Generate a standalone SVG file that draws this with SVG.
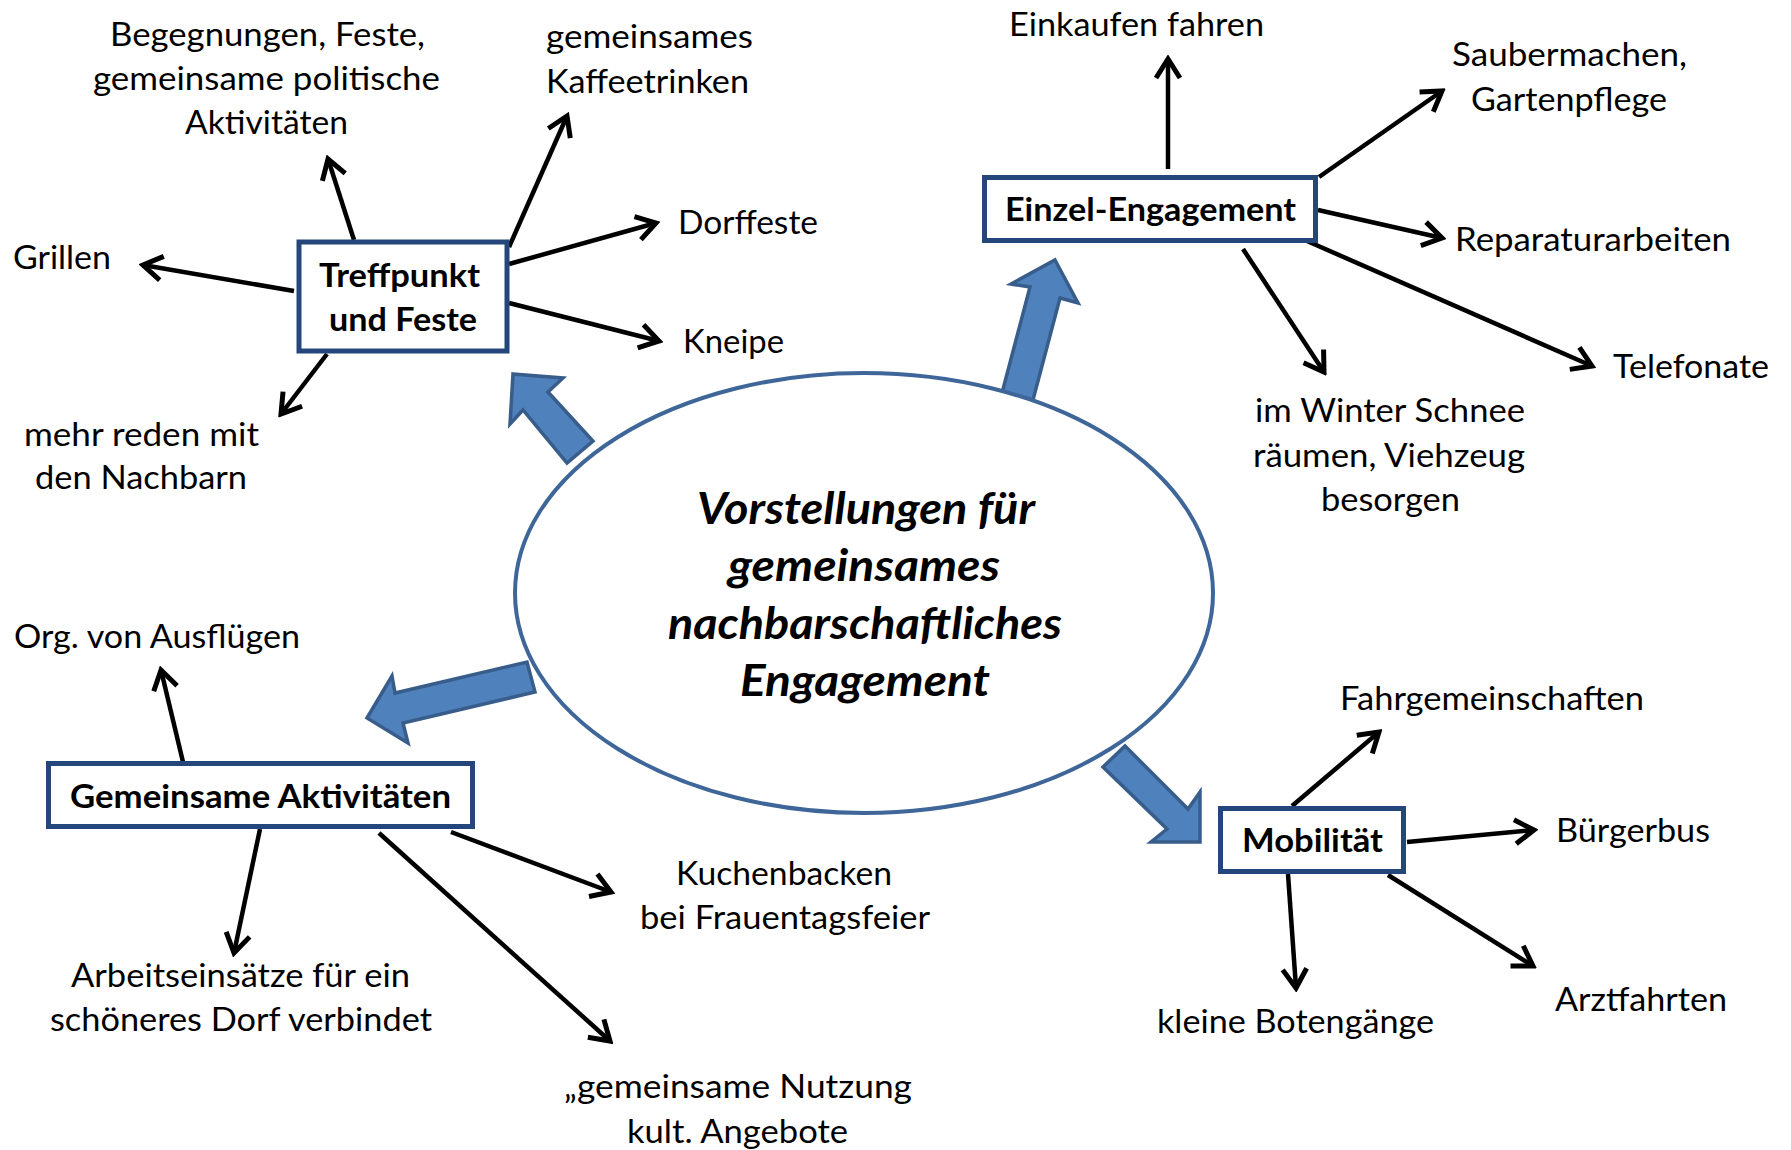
<svg xmlns="http://www.w3.org/2000/svg" width="1791" height="1150" viewBox="0 0 1791 1150">
  <style>
    .lbl { font-family: Lato, "Open Sans", "Liberation Sans", sans-serif; font-size: 33px; fill: #000; }
    .head { font-family: Lato, "Open Sans", "Liberation Sans", sans-serif; font-size: 33px; font-weight: bold; fill: #000; }
    .core { font-family: Lato, "Open Sans", "Liberation Sans", sans-serif; font-size: 43px; font-weight: bold; font-style: italic; fill: #000; }
    .box { fill: #fff; stroke: #24467a; stroke-width: 5; }
    .big { fill: #4f81bd; stroke: #385d8a; stroke-width: 3.5; stroke-linejoin: miter; }
    .con { stroke: #000; stroke-width: 4.5; fill: none; marker-end: url(#vee); }
  </style>
  <defs>
    <marker id="vee" markerUnits="userSpaceOnUse" viewBox="-28 -18 32 36" markerWidth="32" markerHeight="36" refX="0" refY="0" orient="auto">
      <path d="M-19,-12 L0,0 L-19,12" fill="none" stroke="#000" stroke-width="5" stroke-linejoin="miter"/>
    </marker>
  </defs>
  <rect width="1791" height="1150" fill="#fff"/>

  <!-- wide blue arrows leading out of the central ellipse -->
  <g id="block-arrows">
    <polygon class="big" points="513,374 563,378 548,392 593,441 567,463 523,410 510,424"/>
    <polygon class="big" points="1055,260 1078,303 1060,298 1033,400 1002,393 1030,287 1011,284"/>
    <polygon class="big" points="367,718 392,676 395,693 527,662 535,692 403,723 408,743"/>
    <polygon class="big" points="1200,842 1151,842 1167,829 1103,767 1125,746 1188,809 1200,792"/>
  </g>

  <g id="center">
    <ellipse cx="864" cy="593" rx="349" ry="220" fill="#fff" stroke="#3f6699" stroke-width="4"/>
    <text class="core" x="697" y="524" textLength="338" lengthAdjust="spacingAndGlyphs">Vorstellungen für</text>
    <text class="core" x="728" y="581" textLength="272" lengthAdjust="spacingAndGlyphs">gemeinsames</text>
    <text class="core" x="668" y="639" textLength="394" lengthAdjust="spacingAndGlyphs">nachbarschaftliches</text>
    <text class="core" x="740" y="696" textLength="250" lengthAdjust="spacingAndGlyphs">Engagement</text>
  </g>

  <!-- thin arrows from each topic box to its items -->
  <g id="connectors">
    <line class="con" x1="354" y1="240" x2="328" y2="159"/>
    <line class="con" x1="509" y1="247" x2="567" y2="116"/>
    <line class="con" x1="509" y1="264" x2="656" y2="223"/>
    <line class="con" x1="509" y1="303" x2="659" y2="341"/>
    <line class="con" x1="294" y1="291" x2="143" y2="265"/>
    <line class="con" x1="327" y1="354" x2="281" y2="414"/>

    <line class="con" x1="1168" y1="169" x2="1168" y2="59"/>
    <line class="con" x1="1319" y1="177" x2="1442" y2="91"/>
    <line class="con" x1="1318" y1="210" x2="1442" y2="238"/>
    <line class="con" x1="1307" y1="241" x2="1592" y2="366"/>
    <line class="con" x1="1243" y1="249" x2="1324" y2="372"/>

    <line class="con" x1="183" y1="762" x2="161" y2="670"/>
    <line class="con" x1="260" y1="829" x2="234" y2="953"/>
    <line class="con" x1="451" y1="832" x2="611" y2="892"/>
    <line class="con" x1="379" y1="833" x2="610" y2="1041"/>

    <line class="con" x1="1292" y1="806" x2="1379" y2="732"/>
    <line class="con" x1="1407" y1="842" x2="1534" y2="830"/>
    <line class="con" x1="1388" y1="875" x2="1533" y2="966"/>
    <line class="con" x1="1288" y1="874" x2="1296" y2="988"/>
  </g>

  <g id="treffpunkt">
    <rect class="box" x="299" y="242" width="208" height="109"/>
    <text class="head" x="319" y="287" textLength="161" lengthAdjust="spacingAndGlyphs">Treffpunkt</text>
    <text class="head" x="329" y="331" textLength="148" lengthAdjust="spacingAndGlyphs">und Feste</text>
  </g>
  <g id="einzel">
    <rect class="box" x="984.5" y="177.5" width="331" height="63"/>
    <text class="head" x="1005" y="221" textLength="291" lengthAdjust="spacingAndGlyphs">Einzel-Engagement</text>
  </g>
  <g id="gemeinsam">
    <rect class="box" x="48.5" y="763.5" width="424" height="63"/>
    <text class="head" x="70" y="808" textLength="381" lengthAdjust="spacingAndGlyphs">Gemeinsame Aktivitäten</text>
  </g>
  <g id="mobilitaet">
    <rect class="box" x="1220.5" y="808.5" width="183" height="63"/>
    <text class="head" x="1242" y="852" textLength="141" lengthAdjust="spacingAndGlyphs">Mobilität</text>
  </g>

  <g id="items">
    <text class="lbl" x="110" y="46" textLength="315" lengthAdjust="spacingAndGlyphs">Begegnungen, Feste,</text>
    <text class="lbl" x="93" y="90" textLength="347" lengthAdjust="spacingAndGlyphs">gemeinsame politische</text>
    <text class="lbl" x="185" y="134" textLength="163" lengthAdjust="spacingAndGlyphs">Aktivitäten</text>
    <text class="lbl" x="546" y="48" textLength="207" lengthAdjust="spacingAndGlyphs">gemeinsames</text>
    <text class="lbl" x="546" y="93" textLength="203" lengthAdjust="spacingAndGlyphs">Kaffeetrinken</text>
    <text class="lbl" x="678" y="234" textLength="140" lengthAdjust="spacingAndGlyphs">Dorffeste</text>
    <text class="lbl" x="13" y="269" textLength="98" lengthAdjust="spacingAndGlyphs">Grillen</text>
    <text class="lbl" x="683" y="353" textLength="101" lengthAdjust="spacingAndGlyphs">Kneipe</text>
    <text class="lbl" x="24" y="446" textLength="235" lengthAdjust="spacingAndGlyphs">mehr reden mit</text>
    <text class="lbl" x="35" y="489" textLength="212" lengthAdjust="spacingAndGlyphs">den Nachbarn</text>

    <text class="lbl" x="1009" y="36" textLength="255" lengthAdjust="spacingAndGlyphs">Einkaufen fahren</text>
    <text class="lbl" x="1452" y="66" textLength="235" lengthAdjust="spacingAndGlyphs">Saubermachen,</text>
    <text class="lbl" x="1471" y="111" textLength="196" lengthAdjust="spacingAndGlyphs">Gartenpflege</text>
    <text class="lbl" x="1455" y="251" textLength="276" lengthAdjust="spacingAndGlyphs">Reparaturarbeiten</text>
    <text class="lbl" x="1613" y="378" textLength="156" lengthAdjust="spacingAndGlyphs">Telefonate</text>
    <text class="lbl" x="1255" y="422" textLength="270" lengthAdjust="spacingAndGlyphs">im Winter Schnee</text>
    <text class="lbl" x="1253" y="467" textLength="272" lengthAdjust="spacingAndGlyphs">räumen, Viehzeug</text>
    <text class="lbl" x="1321" y="511" textLength="139" lengthAdjust="spacingAndGlyphs">besorgen</text>

    <text class="lbl" x="14" y="648" textLength="286" lengthAdjust="spacingAndGlyphs">Org. von Ausflügen</text>
    <text class="lbl" x="71" y="987" textLength="339" lengthAdjust="spacingAndGlyphs">Arbeitseinsätze für ein</text>
    <text class="lbl" x="50" y="1031" textLength="382" lengthAdjust="spacingAndGlyphs">schöneres Dorf verbindet</text>
    <text class="lbl" x="676" y="885" textLength="216" lengthAdjust="spacingAndGlyphs">Kuchenbacken</text>
    <text class="lbl" x="640" y="929" textLength="290" lengthAdjust="spacingAndGlyphs">bei Frauentagsfeier</text>
    <text class="lbl" x="564" y="1098" textLength="348" lengthAdjust="spacingAndGlyphs">„gemeinsame Nutzung</text>
    <text class="lbl" x="627" y="1143" textLength="221" lengthAdjust="spacingAndGlyphs">kult. Angebote</text>

    <text class="lbl" x="1340" y="710" textLength="304" lengthAdjust="spacingAndGlyphs">Fahrgemeinschaften</text>
    <text class="lbl" x="1556" y="842" textLength="154" lengthAdjust="spacingAndGlyphs">Bürgerbus</text>
    <text class="lbl" x="1555" y="1011" textLength="172" lengthAdjust="spacingAndGlyphs">Arztfahrten</text>
    <text class="lbl" x="1157" y="1033" textLength="277" lengthAdjust="spacingAndGlyphs">kleine Botengänge</text>
  </g>
</svg>
